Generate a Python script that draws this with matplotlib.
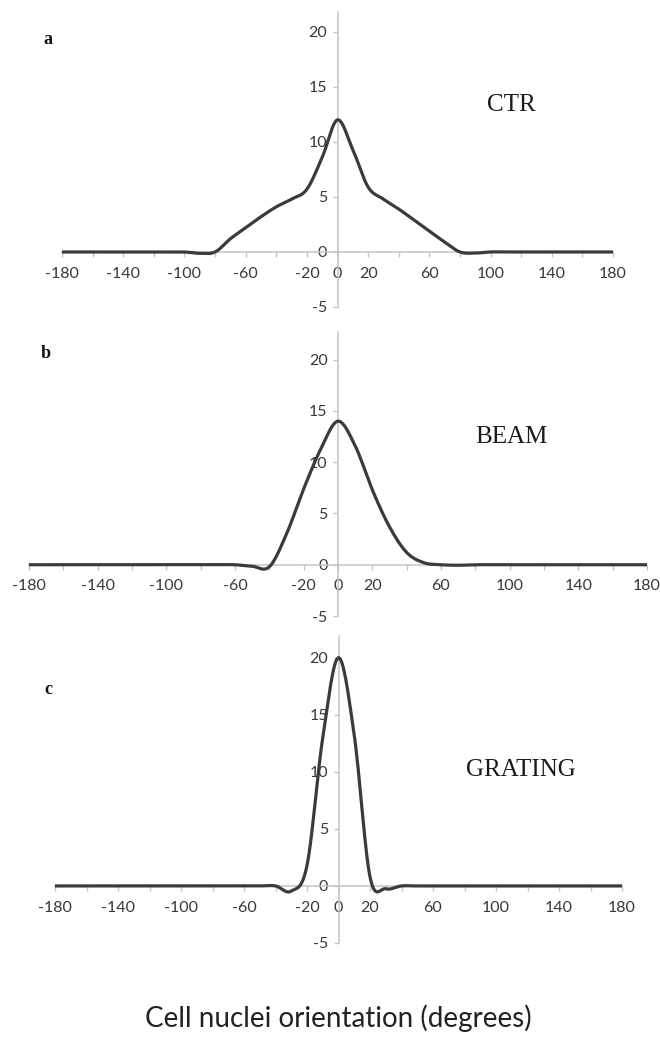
import numpy as np
import matplotlib
matplotlib.use("Agg")
import matplotlib.pyplot as plt

# orientation categories (degrees)
angles = [-180, -170, -160, -150, -140, -130, -120, -110, -100, -90,
          -80, -70, -60, -50, -40, -30, -20, -10, 0, 10,
          20, 30, 40, 50, 60, 70, 80, 90, 100, 110,
          120, 130, 140, 150, 160, 170, 180]

ctr = [0, 0, 0, 0, 0, 0, 0, 0, 0, -0.12,
       0, 1.2, 2.2, 3.2, 4.1, 4.8, 5.7, 8.6, 12.0, 9.3,
       5.9, 4.8, 3.9, 2.9, 1.9, 0.9, 0, -0.1, 0, 0,
       0, 0, 0, 0, 0, 0, 0]

beam = [0, 0, 0, 0, 0, 0, 0, 0, 0, 0,
        0, 0, 0, -0.15, -0.2, 3.0, 7.4, 11.3, 14.0, 11.6,
        7.3, 3.7, 1.2, 0.2, 0, -0.05, 0, 0, 0, 0,
        0, 0, 0, 0, 0, 0, 0]

grating = [0, 0, 0, 0, 0, 0, 0, 0, 0, 0,
           0, 0, 0, 0, 0, -0.45, 1.8, 13.0, 20.0, 13.2,
           0.8, -0.25, 0, 0, 0, 0, 0, 0, 0, 0,
           0, 0, 0, 0, 0, 0, 0]

panel_names = ["CTR", "BEAM", "GRATING"]
panel_letters = ["a", "b", "c"]
x_ticks = [-180, -160, -140, -120, -100, -80, -60, -40, -20, 0,
           20, 40, 60, 80, 100, 120, 140, 160, 180]
x_labels = ["-180", "", "-140", "", "-100", "", "-60", "", "-20", "0",
            "20", "", "60", "", "100", "", "140", "", "180"]
y_ticks = [-5, 0, 5, 10, 15, 20]

W, H = 660, 1039


def smooth(x, y, n=24):
    # excel-like smoothed line (cubic hermite / catmull-rom)
    x = np.asarray(x, float)
    y = np.asarray(y, float)
    m = np.empty_like(y)
    m[1:-1] = (y[2:] - y[:-2]) / (x[2:] - x[:-2])
    m[0] = (y[1] - y[0]) / (x[1] - x[0])
    m[-1] = (y[-1] - y[-2]) / (x[-1] - x[-2])
    t = np.linspace(0, 1, n, endpoint=False)
    h00 = 2 * t**3 - 3 * t**2 + 1
    h10 = t**3 - 2 * t**2 + t
    h01 = -2 * t**3 + 3 * t**2
    h11 = t**3 - t**2
    xs, ys = [], []
    for i in range(len(x) - 1):
        h = x[i + 1] - x[i]
        xs.append(x[i] + t * h)
        ys.append(h00 * y[i] + h10 * h * m[i] + h01 * y[i + 1] + h11 * h * m[i + 1])
    xs.append([x[-1]])
    ys.append([y[-1]])
    return np.concatenate(xs), np.concatenate(ys)


def main():
    fig = plt.figure(figsize=(W / 100, H / 100), dpi=100)

    # panel boxes in pixels: left, right, top, bottom, y top value
    boxes = [(62, 613, 12, 307, 21.8),
             (29, 647, 332, 616, 22.7),
             (55, 622, 636, 943, 21.9)]
    series = [ctr, beam, grating]
    name_pos = [(511, 105), (511, 437), (521, 770)]
    letter_pos = [(48, 40), (46, 354), (48, 690)]

    for k in range(3):
        l, r, t, b, ytop = boxes[k]
        ax = fig.add_axes([l / W, 1 - b / H, (r - l) / W, (b - t) / H])
        xs, ys = smooth(angles, series[k])
        ax.plot(xs, ys, color="#3b3b3b", lw=2.3, zorder=3, solid_capstyle="round")
        ax.set_xlim(-180, 180)
        ax.set_ylim(-5, ytop)
        for s in ["top", "right"]:
            ax.spines[s].set_visible(False)
        ax.spines["left"].set_position(("data", 0))
        ax.spines["bottom"].set_position(("data", 0))
        for s in ["left", "bottom"]:
            ax.spines[s].set_color("#c4c4c4")
            ax.spines[s].set_linewidth(1.1)
        ax.set_xticks(x_ticks)
        ax.set_xticklabels(x_labels, fontfamily="Lato", fontsize=11.5, color="#383838")
        ax.set_yticks(y_ticks)
        ax.set_yticklabels([str(v) for v in y_ticks], fontfamily="Lato",
                           fontsize=11.5, color="#383838")
        ax.tick_params(axis="x", direction="out", length=3.5, width=1, color="#c4c4c4", pad=7)
        ax.tick_params(axis="y", direction="out", length=3.5, width=1, color="#c4c4c4", pad=4)
        ax.patch.set_alpha(0)

        fig.text(name_pos[k][0] / W, 1 - name_pos[k][1] / H, panel_names[k],
                 fontfamily="Liberation Serif", fontsize=18, ha="center", va="center",
                 color="#1a1a1a")
        fig.text(letter_pos[k][0] / W, 1 - letter_pos[k][1] / H, panel_letters[k],
                 fontfamily="Liberation Serif", fontweight="bold", fontsize=13,
                 ha="center", va="center", color="#111111")

    fig.text(338 / W, 1 - 1018 / H, "Cell nuclei orientation (degrees)",
             fontfamily="Lato", fontsize=20, ha="center", va="center", color="#222222")

    fig.savefig("out.png", dpi=100)


if __name__ == "__main__":
    main()
